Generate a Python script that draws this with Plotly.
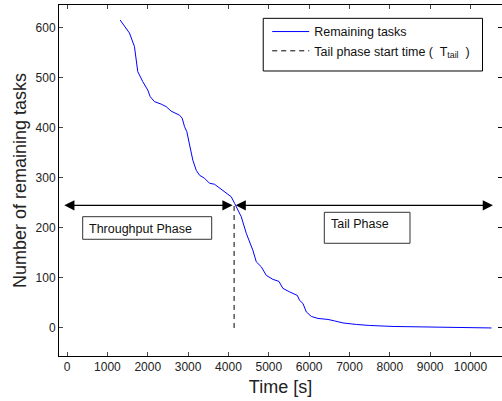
import plotly.graph_objects as go

# Remaining tasks over time
time_s = [1315, 1464, 1546, 1670, 1712, 1752, 1876, 2000, 2060, 2166, 2333, 2457, 2580,
          2787, 2853, 2911, 2968, 3035, 3117, 3201, 3283, 3407, 3531, 3655, 3779, 3945,
          4069, 4151, 4318, 4442, 4606, 4690, 4814, 4938, 5102, 5251, 5350, 5516, 5707,
          5764, 5846, 5930, 6055, 6219, 6467, 6633, 6839, 7171, 7501, 8080, 9000, 10520]
remaining = [615, 599, 589, 562, 535, 512, 492, 475, 462, 452, 447, 442, 433,
             425, 419, 402, 392, 369, 335, 315, 305, 299, 289, 287, 279, 270,
             262, 249, 222, 189, 155, 132, 122, 105, 97, 93, 79, 72, 65,
             55, 49, 32, 23, 19, 17, 14, 10, 7, 5, 3, 2, 0]

t_tail = 4140
arrow_level = 245
x_min, x_end = -70, 10556
x_ticks = list(range(0, 10001, 1000))
x_ticktext = [str(v) for v in x_ticks]
y_ticks = list(range(0, 601, 100))
y_ticktext = [str(v) for v in y_ticks]

FONT = "Liberation Sans, Arial, Helvetica, sans-serif"

fig = go.Figure()
fig.add_trace(go.Scatter(x=time_s, y=remaining, mode="lines", name="Remaining tasks",
                         line=dict(color="#0000ff", width=1)))
fig.add_trace(go.Scatter(x=[t_tail, t_tail], y=[0, arrow_level], mode="lines",
                         name="Tail phase start time (  T<sub>tail</sub>  )",
                         line=dict(color="black", width=1, dash="5px,4px")))
# invisible trace for right-side ticks
fig.add_trace(go.Scatter(x=[t_tail], y=[0], yaxis="y2", mode="markers",
                         marker=dict(opacity=0), showlegend=False, hoverinfo="skip"))

# arrows
fig.add_annotation(x=x_min, y=arrow_level, ax=t_tail, ay=arrow_level, xref="x", yref="y",
                   axref="x", ayref="y", showarrow=True, arrowhead=2, arrowside="end+start",
                   arrowsize=1.7, arrowwidth=1.2, arrowcolor="black", text="")
fig.add_annotation(x=x_end, y=arrow_level, ax=t_tail, ay=arrow_level, xref="x", yref="y",
                   axref="x", ayref="y", showarrow=True, arrowhead=2, arrowside="end+start",
                   arrowsize=1.7, arrowwidth=1.2, arrowcolor="black", text="")

# phase label boxes
fig.add_shape(type="rect", xref="paper", yref="paper", x0=0.0535, x1=0.3447, y0=0.3325, y1=0.3969,
              line=dict(color="#333", width=1), fillcolor="white")
fig.add_annotation(x=0.063, y=0.3618, xref="paper", yref="paper", text="Throughput Phase",
                   showarrow=False, xanchor="left", yanchor="middle",
                   font=dict(family=FONT, size=12.5, color="#111"))
fig.add_shape(type="rect", xref="paper", yref="paper", x0=0.5989, x1=0.7923, y0=0.3211, y1=0.4094,
              line=dict(color="#333", width=1), fillcolor="white")
fig.add_annotation(x=0.609, y=0.376, xref="paper", yref="paper", text="Tail Phase",
                   showarrow=False, xanchor="left", yanchor="middle",
                   font=dict(family=FONT, size=12.5, color="#111"))

# legend box
fig.add_shape(type="rect", xref="paper", yref="paper", x0=0.461, x1=0.956, y0=0.812, y1=0.962,
              line=dict(color="black", width=1), fillcolor="white", layer="below")

fig.update_layout(
    width=502, height=401,
    margin=dict(l=59, r=0, t=5, b=45, autoexpand=False),
    plot_bgcolor="white", paper_bgcolor="white",
    font=dict(family=FONT, size=12, color="#222"),
    showlegend=True,
    legend=dict(x=0.470, y=0.966, xanchor="left", yanchor="top", bgcolor="rgba(0,0,0,0)",
                borderwidth=0, font=dict(family=FONT, size=12.5, color="#111"),
                itemwidth=37, tracegroupgap=0),
    xaxis=dict(range=[-200, 10780], tickvals=x_ticks, ticktext=x_ticktext, ticks="inside", ticklen=4,
               showline=True, linecolor="black", linewidth=1, mirror="ticks",
               showgrid=False, zeroline=False, automargin=False,
               title=dict(text="Time [s]", font=dict(size=18, family=FONT), standoff=6)),
    yaxis=dict(range=[-56, 645], tickvals=y_ticks, ticktext=y_ticktext, ticks="inside", ticklen=4,
               showline=True, linecolor="black", linewidth=1, mirror=False,
               showgrid=False, zeroline=False, automargin=False,
               title=dict(text="Number of remaining tasks", font=dict(size=18, family=FONT), standoff=4)),
    yaxis2=dict(range=[-56, 645], tickvals=y_ticks, ticks="inside", ticklen=4, side="right",
                overlaying="y", showticklabels=False, showline=False, showgrid=False, zeroline=False,
                tickcolor="black", automargin=False),
)

fig.write_html("out.html", config={"displayModeBar": False},
               post_script="document.body.style.margin='0';document.body.style.overflow='hidden';")
